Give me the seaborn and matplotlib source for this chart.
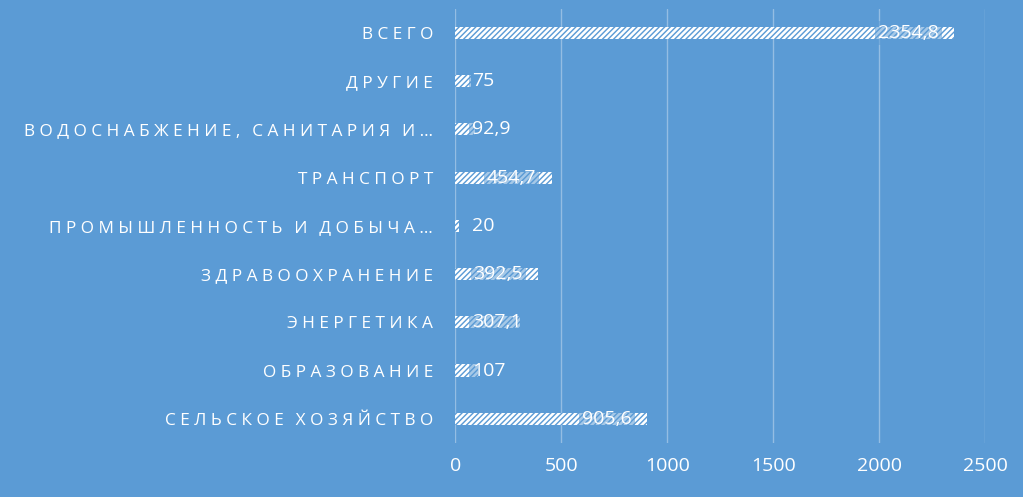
import numpy as np
import pandas as pd
import seaborn as sns
import matplotlib.pyplot as plt

# data, top to bottom as shown
sectors = ["ВСЕГО", "ДРУГИЕ", "ВОДОСНАБЖЕНИЕ, САНИТАРИЯ И…", "ТРАНСПОРТ",
           "ПРОМЫШЛЕННОСТЬ И ДОБЫЧА…", "ЗДРАВООХРАНЕНИЕ", "ЭНЕРГЕТИКА",
           "ОБРАЗОВАНИЕ", "СЕЛЬСКОЕ ХОЗЯЙСТВО"]
amounts = [2354.8, 75, 92.9, 454.7, 20, 392.5, 307.1, 107, 905.6]
xticks = [0, 500, 1000, 1500, 2000, 2500]

bg = "#5B9BD5"

def spaced(s):
    # imitate the letter spacing of the original labels
    return " ".join(s.replace(" ", "\u2009"))

def fmt(v):
    return ("%g" % v).replace(".", ",")

df = pd.DataFrame({"sector": sectors, "amount": amounts})

sns.set_style("white")
plt.rcParams["font.family"] = ["Open Sans", "DejaVu Sans"]
plt.rcParams["hatch.linewidth"] = 1.8
plt.rcParams["hatch.color"] = "white"

fig = plt.figure(figsize=(10.23, 4.97), dpi=100, facecolor=bg)
ax = fig.add_axes([0.445, 0.109, 0.518, 0.873], facecolor=bg)

sns.barplot(data=df, x="amount", y="sector", orient="h", width=0.25,
            color=bg, ax=ax)
for p in ax.patches:
    p.set_facecolor(bg)
    p.set_edgecolor("white")
    p.set_hatch("//////")
    p.set_linewidth(0)

for i, v in enumerate(amounts):
    if v > 350:
        ax.annotate(fmt(v), (v, i), xytext=(-11, 0), textcoords="offset points",
                    ha="right", va="center", color="white", fontsize=14,
                    bbox=dict(boxstyle="square,pad=0.15", fc=bg, ec="none", alpha=0.55))
    else:
        ax.annotate(fmt(v), (80, i), xytext=(0, 0), textcoords="offset points",
                    ha="left", va="center", color="white", fontsize=14,
                    bbox=dict(boxstyle="square,pad=0.15", fc=bg, ec="none", alpha=0.55))

ax.set_xlim(0, 2500)
ax.set_xticks(xticks)
ax.set_xticklabels([str(t) for t in xticks], color="white", fontsize=14)
ax.set_yticks(range(len(sectors)))
ax.set_yticklabels([spaced(s) for s in sectors], color="white", fontsize=12.4)
ax.tick_params(axis="y", length=0, pad=16)
ax.tick_params(axis="x", length=0, pad=10)
ax.set_xlabel("")
ax.set_ylabel("")
ax.grid(axis="x", color="white", alpha=0.35, linewidth=1)
ax.set_axisbelow(True)
sns.despine(ax=ax, left=True, bottom=True)

fig.savefig("out.png", dpi=100, facecolor=bg)
